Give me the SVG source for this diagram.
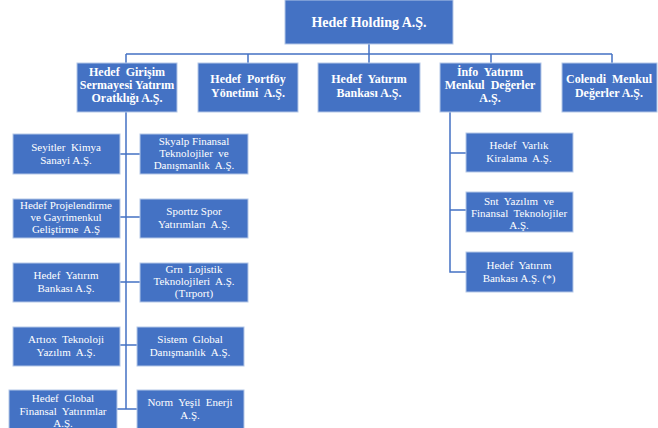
<svg xmlns="http://www.w3.org/2000/svg" width="658" height="428" viewBox="0 0 658 428">
<style>
.b{fill:#4472C4;stroke:#B4C7E7;stroke-width:1}
.t{font-family:"Liberation Serif","Times New Roman",serif;fill:#fff;text-anchor:middle;white-space:pre}
.h{font-weight:bold;font-size:12px}
.r{font-size:11px}
.c{stroke:#4472C4;stroke-width:1.5;fill:none}
</style>
<rect width="658" height="428" fill="#fff"/>
<g id="connectors">
<path class="c" d="M369 44V64M126 54H612M126 54V64M248 54V64M491 54V64M612 54V64"/>
<path class="c" d="M126 112V409M120 154H140M120 217H140M120 282H140M120 345H137M117 409H137"/>
<path class="c" d="M450 112V272H466M450 153H466M450 210H466"/>
</g>
<g id="n0"><rect class="b" x="285" y="0" width="168" height="44"/><text class="t" x="369" y="27" font-weight="bold" font-size="14">Hedef Holding A.Ş.</text></g>
<g id="n1"><rect class="b" x="77" y="63" width="100" height="49"/><text class="t h" xml:space="preserve"><tspan x="127" y="76">Hedef  Girişim</tspan><tspan x="127" y="89">Sermayesi Yatırım</tspan><tspan x="127" y="102">Oratklığı A.Ş.</tspan></text></g>
<g id="n2"><rect class="b" x="198" y="63" width="100" height="49"/><text class="t h" xml:space="preserve"><tspan x="248" y="83">Hedef  Portföy</tspan><tspan x="248" y="97">Yönetimi  A.Ş.</tspan></text></g>
<g id="n3"><rect class="b" x="318" y="63" width="102" height="49"/><text class="t h" xml:space="preserve"><tspan x="369" y="83">Hedef  Yatırım</tspan><tspan x="369" y="97">Bankası A.Ş.</tspan></text></g>
<g id="n4"><rect class="b" x="440" y="63" width="101" height="49"/><text class="t h" xml:space="preserve"><tspan x="490" y="76">İnfo  Yatırım</tspan><tspan x="490" y="89">Menkul  Değerler</tspan><tspan x="490" y="102">A.Ş.</tspan></text></g>
<g id="n5"><rect class="b" x="562" y="63" width="95" height="49"/><text class="t h" xml:space="preserve"><tspan x="609" y="83">Colendi  Menkul</tspan><tspan x="609" y="97">Değerler A.Ş.</tspan></text></g>
<g id="n6"><rect class="b" x="13" y="134" width="107" height="40"/><text class="t r" xml:space="preserve"><tspan x="66" y="151">Seyitler  Kimya</tspan><tspan x="66" y="164">Sanayi A.Ş.</tspan></text></g>
<g id="n7"><rect class="b" x="140" y="134" width="108" height="40"/><text class="t r" xml:space="preserve"><tspan x="194" y="145">Skyalp Finansal</tspan><tspan x="194" y="157">Teknolojiler  ve</tspan><tspan x="194" y="169">Danışmanlık  A.Ş.</tspan></text></g>
<g id="n8"><rect class="b" x="13" y="199" width="107" height="39"/><text class="t r" xml:space="preserve"><tspan x="66" y="209">Hedef Projelendirme</tspan><tspan x="66" y="221">ve Gayrimenkul</tspan><tspan x="66" y="233">Geliştirme  A.Ş</tspan></text></g>
<g id="n9"><rect class="b" x="140" y="199" width="108" height="39"/><text class="t r" xml:space="preserve"><tspan x="194" y="215">Sporttz Spor</tspan><tspan x="194" y="228">Yatırımları  A.Ş.</tspan></text></g>
<g id="n10"><rect class="b" x="13" y="263" width="107" height="39"/><text class="t r" xml:space="preserve"><tspan x="66" y="279">Hedef  Yatırım</tspan><tspan x="66" y="292">Bankası A.Ş.</tspan></text></g>
<g id="n11"><rect class="b" x="140" y="263" width="108" height="39"/><text class="t r" xml:space="preserve"><tspan x="194" y="273">Grn  Lojistik</tspan><tspan x="194" y="285">Teknolojileri  A.Ş.</tspan><tspan x="194" y="297">(Tırport)</tspan></text></g>
<g id="n12"><rect class="b" x="13" y="327" width="107" height="39"/><text class="t r" xml:space="preserve"><tspan x="66" y="343">Artıox  Teknoloji</tspan><tspan x="66" y="356">Yazılım  A.Ş.</tspan></text></g>
<g id="n13"><rect class="b" x="137" y="327" width="107" height="39"/><text class="t r" xml:space="preserve"><tspan x="190" y="343">Sistem  Global</tspan><tspan x="190" y="356">Danışmanlık  A.Ş.</tspan></text></g>
<g id="n14"><rect class="b" x="9" y="390" width="108" height="40"/><text class="t r" xml:space="preserve"><tspan x="63" y="402">Hedef  Global</tspan><tspan x="63" y="415">Finansal  Yatırımlar</tspan><tspan x="63" y="427">A.Ş.</tspan></text></g>
<g id="n15"><rect class="b" x="137" y="390" width="107" height="40"/><text class="t r" xml:space="preserve"><tspan x="190" y="406">Norm  Yeşil  Enerji</tspan><tspan x="190" y="419">A.Ş.</tspan></text></g>
<g id="n16"><rect class="b" x="466" y="133" width="107" height="39"/><text class="t r" xml:space="preserve"><tspan x="519" y="149">Hedef  Varlık</tspan><tspan x="519" y="162">Kiralama  A.Ş.</tspan></text></g>
<g id="n17"><rect class="b" x="466" y="192" width="107" height="40"/><text class="t r" xml:space="preserve"><tspan x="519" y="205">Snt  Yazılım  ve</tspan><tspan x="519" y="217">Finansal  Teknolojiler</tspan><tspan x="519" y="229">A.Ş.</tspan></text></g>
<g id="n18"><rect class="b" x="466" y="252" width="107" height="40"/><text class="t r" xml:space="preserve"><tspan x="519" y="269">Hedef  Yatırım</tspan><tspan x="519" y="282">Bankası A.Ş. (*)</tspan></text></g>
</svg>
